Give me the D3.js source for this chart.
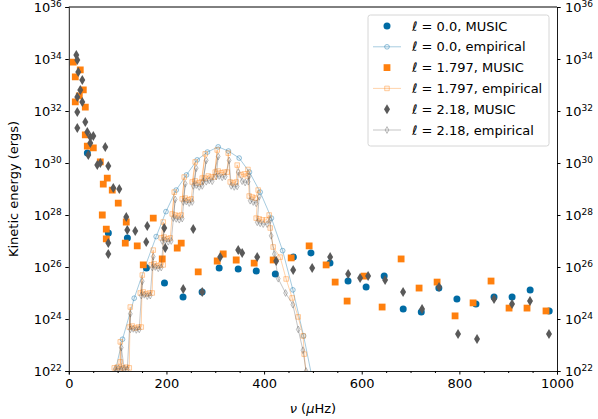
<!DOCTYPE html>
<meta charset="utf-8">
<style>
body { margin: 0; background: #fff; }
svg text { font-family: "DejaVu Sans", sans-serif; fill: #000; }
.tick text { font-size: 13px; }
</style>
<div id="chart"></div>
<script src="https://cdn.jsdelivr.net/npm/d3@7"></script>
<script>

var width = 598, height = 419;
var margin = {left: 68.8, right: 598 - 557, top: 7, bottom: 419 - 371};

// x tick values / y tick exponents
var xTicks = [0, 200, 400, 600, 800, 1000];
var xMinor = [50, 100, 150, 250, 300, 350, 450, 500, 550, 650, 700, 750, 850, 900, 950];
var yExps = [22, 24, 26, 28, 30, 32, 34, 36];

// MUSIC points, [nu (uHz), log10 E (ergs)]
var music0 = [[38, 30.38], [81, 27.31], [120, 27.12], [159, 25.96], [196, 25.38], [234, 24.85],
  [273, 25.04], [308, 25.96], [347, 25.92], [384, 25.85], [423, 25.73], [460, 26.38], [496, 26.54],
  [535, 26.15], [572, 25.46], [609, 25.23], [646, 25.65], [685, 24.38], [722, 24.27], [758, 25.19],
  [795, 24.77], [834, 24.58], [871, 24.85], [908, 24.85], [945, 25.12], [984, 24.31]];

var music1797 = [[9.2, 33.88], [13.3, 33.31], [23.5, 33.58], [29.7, 32.81], [13.3, 32.35], [33.8, 32.15],
  [21.5, 32.58], [33.8, 31.08], [37.9, 30.65], [50.2, 30.58], [64.5, 30.04], [78.8, 29.42], [70.6, 29.19],
  [89, 28.96], [101.3, 28.46], [68.6, 28.0], [117.7, 27.73], [76.8, 27.46], [76.8, 27.08], [115.7, 26.92],
  [140.2, 26.81], [152.5, 26.08], [173, 27.88], [191.4, 26.31], [222.1, 26.73], [230.3, 26.92],
  [265.1, 25.81], [304, 26.23], [316.3, 26.5], [342.9, 26.27], [379.7, 26.15], [418.6, 26.27],
  [455.5, 26.35], [492.3, 26.81], [527.1, 26.08], [545.6, 25.42], [570.1, 24.69], [604.9, 25.65],
  [641.8, 24.46], [680.7, 26.31], [717.5, 25.19], [754.4, 25.42], [791.2, 24.12], [828.1, 24.62],
  [864.9, 25.46], [901.8, 24.42], [938.6, 24.42], [977.5, 24.31]];

var music218 = [[15.4, 34.15], [17.4, 33.96], [19.4, 33.5], [27.6, 33.19], [23.5, 32.81], [17.4, 32.54],
  [27.6, 32.35], [17.4, 31.96], [33.8, 31.58], [17.4, 31.35], [37.9, 31.19], [44, 31.0], [50.2, 31.04],
  [44, 30.77], [39.9, 30.31], [74.7, 30.62], [58.3, 29.92], [64.5, 30.0], [80.9, 29.88], [91.1, 29.04],
  [103.4, 29.0], [117.7, 27.92], [119.8, 27.42], [136.1, 27.38], [160.7, 27.58], [158.6, 26.96],
  [80.9, 26.92], [80.9, 26.5], [197.5, 26.73], [195.5, 27.5], [254.9, 27.46], [234.4, 25.15],
  [273.3, 25.04], [310.1, 26.38], [347, 26.65], [355.1, 26.54], [385.9, 26.38], [424.8, 26.23],
  [459.6, 25.88], [498.5, 25.96], [535.3, 26.38], [572.2, 25.73], [596.7, 25.58], [613.1, 25.65],
  [647.9, 25.5], [684.7, 25.04], [723.6, 24.38], [758.4, 25.23], [797.3, 23.42], [836.2, 23.23],
  [871, 24.77], [907.9, 24.58], [944.7, 24.69], [983.6, 23.42]];

// empirical curves
var emp0 = [[88, 21.4], [110, 23.22], [134, 24.8], [157, 26.05], [179, 27.17], [199, 28.13], [220, 28.96],
  [241, 29.54], [263, 30.12], [284, 30.42], [306, 30.62], [327, 30.46], [349, 30.19], [370, 29.65],
  [392, 28.88], [415, 27.88], [438, 26.63], [459, 25.12], [481, 23.35], [502, 21.4]];

var emp1797 = [[91.1, 21.27], [93.1, 22.12], [99.3, 22.15], [105.4, 22.08], [105.4, 23.12], [105.4, 22.35],
  [111.6, 22.12], [117.7, 22.15], [123.8, 22.12], [125.9, 24.46], [123.8, 23.69], [130, 23.73],
  [136.1, 23.65], [142.3, 23.69], [148.4, 23.69], [150.5, 25.69], [146.4, 25.0], [152.5, 25.04],
  [158.6, 24.96], [164.8, 25.0], [170.9, 25.0], [173, 26.65], [168.9, 26.08], [175, 26.12],
  [181.2, 26.04], [187.3, 26.08], [193.4, 26.08], [193.4, 27.73], [189.3, 27.12], [195.5, 27.15],
  [201.6, 27.08], [207.8, 27.12], [216, 28.88], [211.9, 28.04], [218, 28.0], [224.1, 27.96],
  [230.3, 28.0], [236.4, 29.46], [232.3, 28.62], [238.5, 28.65], [244.6, 28.58], [250.8, 28.62],
  [258.9, 30.04], [252.8, 29.27], [258.9, 29.31], [265.1, 29.23], [271.2, 29.27], [279.4, 30.35],
  [273.3, 29.42], [279.4, 29.42], [285.6, 29.5], [291.7, 29.46], [297.8, 29.46], [304, 30.5],
  [299.9, 29.65], [306, 29.69], [312.2, 29.62], [318.3, 29.65], [324.4, 29.65], [326.5, 30.38],
  [330.6, 29.27], [336.7, 29.23], [342.9, 29.27], [344.9, 29.92], [353.1, 29.54], [359.2, 29.58],
  [365.4, 29.5], [367, 29.75], [369.5, 28.73], [375.6, 28.69], [381.8, 28.65], [387.9, 28.96],
  [383.8, 27.88], [390, 27.85], [396.1, 27.81], [404.3, 27.81], [410.4, 28.0], [412.5, 27.5],
  [418.6, 26.77], [432.9, 26.38], [445.2, 25.54], [457.5, 24.81], [469.8, 24.08], [480, 23.35],
  [482.1, 22.65], [486.2, 21.85]];

var emp218 = [[93, 21.3], [95.2, 22.08], [101.3, 22.1], [107.5, 22.05], [107.5, 22.9], [113.6, 22.08],
  [119.8, 22.06], [126, 24.2], [126, 23.6], [132, 23.62], [138.2, 23.58], [144.3, 23.6], [150.5, 25.45],
  [148.4, 24.9], [154.6, 24.93], [160.7, 24.88], [166.8, 24.9], [173, 26.4], [171, 25.98], [177.1, 26.0],
  [183.2, 25.95], [189.3, 25.98], [195.5, 27.5], [191.4, 27.0], [197.5, 27.02], [203.7, 26.97],
  [209.8, 27.0], [218, 28.6], [214, 27.88], [220, 27.85], [226.2, 27.82], [232.3, 27.86], [238.5, 29.2],
  [234.4, 28.5], [240.5, 28.52], [246.6, 28.46], [252.8, 28.5], [261, 29.8], [254.9, 29.12], [261, 29.15],
  [267.1, 29.08], [273.3, 29.12], [281.5, 30.1], [275.3, 29.3], [281.5, 29.28], [287.6, 29.33],
  [293.8, 29.3], [306, 30.25], [302, 29.48], [308.1, 29.5], [314.2, 29.45], [320.4, 29.48], [328.5, 30.1],
  [332.6, 29.12], [338.8, 29.08], [344.9, 29.1], [347, 29.65], [355.1, 29.3], [361.2, 29.25],
  [367.4, 29.28], [369.5, 29.5], [371.5, 28.55], [377.7, 28.5], [383.8, 28.45], [390, 28.7], [386, 27.72],
  [392, 27.68], [398.2, 27.65], [406.3, 27.65], [412.5, 27.8], [414.5, 27.2], [421, 26.5], [429, 25.55],
  [444, 25.0], [459, 24.55], [470, 23.6], [479.5, 22.8], [486, 22.0], [492, 21.3]];

var blue = "#006BA4", orange = "#FF800E", gray = "#595959";

var x = d3.scaleLinear().domain([0, 1000]).range([margin.left, width - margin.right]);
var y = d3.scaleLog().domain([1e22, 1e36]).range([height - margin.bottom, margin.top]);

var svg = d3.select("#chart").append("svg")
    .attr("width", width)
    .attr("height", height);

svg.append("clipPath").attr("id", "clip")
  .append("rect")
    .attr("x", x(0)).attr("y", y(1e36))
    .attr("width", x(1000) - x(0)).attr("height", y(1e22) - y(1e36));

var plot = svg.append("g").attr("clip-path", "url(#clip)");

var thinDiamond = (w, h) => `M0,${-h}L${w},0L0,${h}L${-w},0Z`;
var circle = (r) => d3.symbol(d3.symbolCircle, Math.PI * r * r)();
var square = (s) => d3.symbol(d3.symbolSquare, s * s)();

var series = [
  {label: "0.0", kind: "MUSIC", data: music0, color: blue, shape: circle(3.5)},
  {label: "0.0", kind: "empirical", data: emp0, color: blue, shape: circle(2.4)},
  {label: "1.797", kind: "MUSIC", data: music1797, color: orange, shape: square(6.8)},
  {label: "1.797", kind: "empirical", data: emp1797, color: orange, shape: square(4.6)},
  {label: "2.18", kind: "MUSIC", data: music218, color: gray, shape: thinDiamond(3, 5)},
  {label: "2.18", kind: "empirical", data: emp218, color: gray, shape: thinDiamond(1.9, 3.4)}
];

var line = d3.line().x((d) => x(d[0])).y((d) => y(Math.pow(10, d[1])));

series.forEach(function(s) {
  if (s.kind == "empirical") {
    plot.append("path")
      .datum(s.data)
      .attr("d", line)
      .attr("fill", "none")
      .attr("stroke", s.color)
      .attr("stroke-opacity", 0.35)
      .attr("stroke-width", 1);
    plot.selectAll(null).data(s.data).enter().append("path")
      .attr("d", s.shape)
      .attr("transform", (d) => `translate(${x(d[0])},${y(Math.pow(10, d[1]))})`)
      .attr("fill", s.color).attr("fill-opacity", 0.08)
      .attr("stroke", s.color).attr("stroke-opacity", 0.42)
      .attr("stroke-width", 0.9);
  } else {
    plot.selectAll(null).data(s.data).enter().append("path")
      .attr("d", s.shape)
      .attr("transform", (d) => `translate(${x(d[0])},${y(Math.pow(10, d[1]))})`)
      .attr("fill", s.color);
  }
});

// axes
svg.append("g")
    .attr("transform", `translate(0,${y(1e22)})`)
    .call(d3.axisBottom(x).tickValues(xTicks).tickSize(3.5).tickPadding(4.5).tickFormat(d3.format("d")));
svg.append("g")
    .attr("transform", `translate(0,${y(1e22)})`)
    .call(d3.axisBottom(x).tickValues(xMinor).tickSize(2).tickFormat(""))
    .call((g) => g.select(".domain").remove());

function sciLabels(g, anchor, dx) {
  g.selectAll(".tick text").remove();
  g.selectAll(".tick").append("text")
    .attr("x", dx).attr("dy", "0.33em")
    .attr("text-anchor", anchor)
    .style("font-size", "13px")
    .call((t) => {
      t.append("tspan").text("10");
      t.append("tspan").attr("dy", "-0.5em").style("font-size", "9px").text((d) => Math.round(Math.log10(d)));
    });
}

var yVals = yExps.map((e) => Math.pow(10, e));
svg.append("g")
    .attr("transform", `translate(${x(0)},0)`)
    .call(d3.axisLeft(y).tickValues(yVals).tickSize(3.5))
    .call((g) => sciLabels(g, "end", -7));
svg.append("g")
    .attr("transform", `translate(${x(1000)},0)`)
    .call(d3.axisRight(y).tickValues(yVals).tickSize(3.5))
    .call((g) => sciLabels(g, "start", 8));

// top spine
svg.append("line")
    .attr("x1", x(0)).attr("x2", x(1000))
    .attr("y1", y(1e36)).attr("y2", y(1e36))
    .attr("stroke", "#000");

svg.selectAll(".domain").attr("stroke-width", 0.9);

// axis labels
var xl = svg.append("text")
    .attr("x", (x(0) + x(1000)) / 2).attr("y", 413)
    .attr("text-anchor", "middle").style("font-size", "13px");
xl.append("tspan").style("font-style", "italic").text("ν");
xl.append("tspan").text(" (");
xl.append("tspan").style("font-style", "italic").text("μ");
xl.append("tspan").text("Hz)");

svg.append("text")
    .attr("transform", `translate(18,${(y(1e22) + y(1e36)) / 2}) rotate(-90)`)
    .attr("text-anchor", "middle").style("font-size", "13px")
    .text("Kinetic energy (ergs)");

// legend
var legend = svg.append("g").attr("transform", "translate(368,15)");
legend.append("rect")
    .attr("width", 181).attr("height", 131).attr("rx", 2.5)
    .attr("fill", "#fff").attr("fill-opacity", 0.8)
    .attr("stroke", "#cccccc").attr("stroke-width", 0.8);

series.forEach(function(s, i) {
  var row = legend.append("g").attr("transform", `translate(0,${11 + i * 20.8})`);
  if (s.kind == "empirical") {
    row.append("line").attr("x1", 5).attr("x2", 33)
      .attr("stroke", s.color).attr("stroke-opacity", 0.35);
    row.append("path").attr("d", s.shape).attr("transform", "translate(19,0)")
      .attr("fill", s.color).attr("fill-opacity", 0.08)
      .attr("stroke", s.color).attr("stroke-opacity", 0.42).attr("stroke-width", 0.9);
  } else {
    row.append("path").attr("d", s.shape).attr("transform", "translate(19,0)").attr("fill", s.color);
  }
  var t = row.append("text").attr("x", 44).attr("dy", "0.36em").style("font-size", "13px");
  t.append("tspan").style("font-style", "italic").text("ℓ");
  t.append("tspan").text(" = " + s.label + ", " + s.kind);
});

</script>
